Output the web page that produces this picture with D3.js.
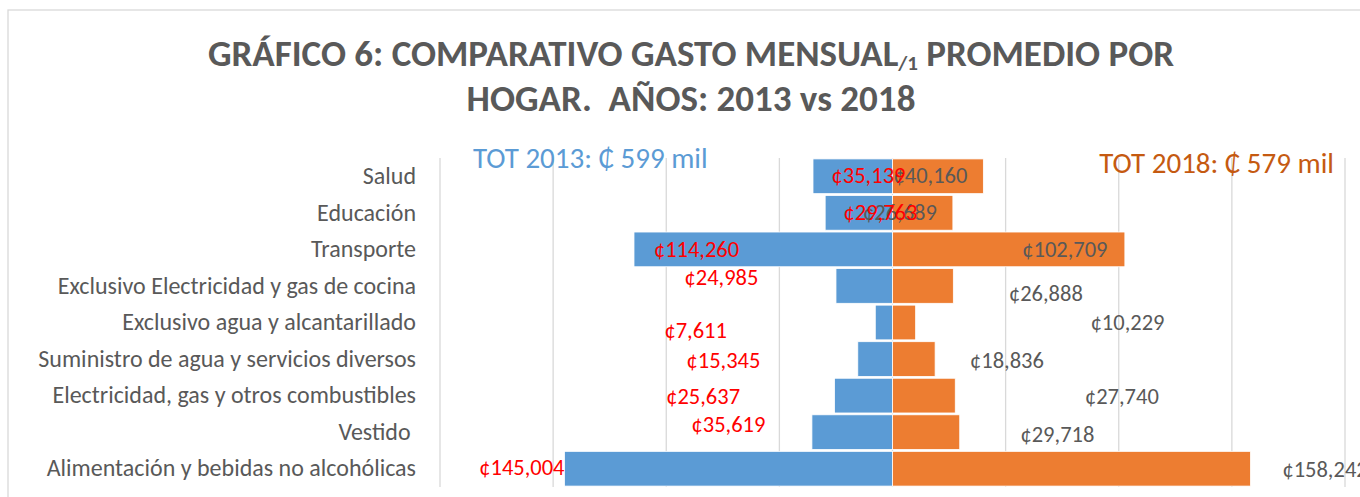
<!DOCTYPE html>
<html>
<head>
<meta charset="utf-8">
<script src="https://cdn.jsdelivr.net/npm/d3@7"></script>
<style>
  html, body { margin: 0; padding: 0; background: #fff; overflow: hidden; }
  svg { display: block; }
</style>
</head>
<body>
<svg id="chart" width="1360" height="497"></svg>
<script>
// ---------------- DATA ----------------
const categories = [
  "Salud",
  "Educación",
  "Transporte",
  "Exclusivo Electricidad y gas de cocina",
  "Exclusivo agua y alcantarillado",
  "Suministro de agua y servicios diversos",
  "Electricidad, gas y otros combustibles",
  "Vestido ",
  "Alimentación y bebidas no alcohólicas"
];
const values2013 = [35139, 29763, 114260, 24985, 7611, 15345, 25637, 35619, 145004];
const values2018 = [40160, 26689, 102709, 26888, 10229, 18836, 27740, 29718, 158242];
const xTicks = [-200000, -150000, -100000, -50000, 0, 50000, 100000, 150000, 200000];
const titleLine1 = ["GRÁFICO 6: COMPARATIVO GASTO MENSUAL", "/1", " PROMEDIO POR"];
const titleLine2 = "HOGAR.\u00A0 AÑOS: 2013 vs 2018";
const total2013 = "TOT 2013: ₵ 599 mil";
const total2018 = "TOT 2018: ₵ 579 mil";

// -------- label placement (manual, as in the source chart) --------
// centre of each data label, in value units, and a vertical nudge in px
const labelX2013 = [-10600, -5300, -86600, -75600, -87000, -74700, -83700, -72500, -163800];
const labelDy2013 = [-1, -1, 0, -9, 7.5, 1, 1, -8, -2];
const labelX2018 = [16800, 3300, 76200, 67800, 103900, 50600, 101400, 72900, 191200];
const labelDy2018 = [-1, -1, 0, 7, 0, 1, 1, 2, 0];

// ---------------- LAYOUT ----------------
const FONT = "Carlito, Calibri, Lato, 'Open Sans', sans-serif";
const svg = d3.select("#chart");
const plot = { left: 440, right: 1345, top: 158, bottom: 487 };

const x = d3.scaleLinear().domain([-200000, 200000]).range([plot.left, plot.right]);
const y = d3.scaleBand().domain(categories).range([plot.top, plot.bottom])
  .paddingInner(0.05).paddingOuter(0.025);

// chart border (partly cropped in the reference)
svg.append("rect")
  .attr("x", 8).attr("y", 10).attr("width", 1500).attr("height", 600)
  .attr("fill", "none").attr("stroke", "#D9D9D9").attr("stroke-width", 1.3);

// gridlines
svg.append("g").selectAll("line").data(xTicks).join("line")
  .attr("x1", d => x(d)).attr("x2", d => x(d))
  .attr("y1", plot.top).attr("y2", plot.bottom)
  .attr("stroke", "#D9D9D9").attr("stroke-width", 1.3);

// bars
svg.append("g").selectAll("rect").data(categories).join("rect")
  .attr("x", (d, i) => x(-values2013[i]))
  .attr("width", (d, i) => x(0) - x(-values2013[i]))
  .attr("y", d => y(d)).attr("height", y.bandwidth())
  .attr("fill", "#5B9BD5").attr("stroke", "#fff").attr("stroke-width", 0.8);

svg.append("g").selectAll("rect").data(categories).join("rect")
  .attr("x", x(0))
  .attr("width", (d, i) => x(values2018[i]) - x(0))
  .attr("y", d => y(d)).attr("height", y.bandwidth())
  .attr("fill", "#ED7D31").attr("stroke", "#fff").attr("stroke-width", 0.8);

// category axis
const yAxis = d3.axisLeft(y).tickSize(0).tickPadding(24);
const ya = svg.append("g").attr("transform", `translate(${plot.left},0)`).call(yAxis);
ya.select(".domain").remove();
ya.selectAll("text")
  .style("white-space", "pre")
  .attr("font-family", FONT).attr("font-size", 24).attr("fill", "#595959");

const fmt = v => "¢" + d3.format(",")(v);

// data labels 2018 (gray) first, 2013 (red) on top
svg.append("g").selectAll("text").data(categories).join("text")
  .attr("x", (d, i) => x(labelX2018[i]))
  .attr("y", (d, i) => y(d) + y.bandwidth() / 2 + labelDy2018[i])
  .attr("dy", "0.35em").attr("text-anchor", "middle")
  .attr("font-family", FONT).attr("font-size", 22.5).attr("fill", "#595959")
  .text((d, i) => fmt(values2018[i]));

svg.append("g").selectAll("text").data(categories).join("text")
  .attr("x", (d, i) => x(labelX2013[i]))
  .attr("y", (d, i) => y(d) + y.bandwidth() / 2 + labelDy2013[i])
  .attr("dy", "0.35em").attr("text-anchor", "middle")
  .attr("font-family", FONT).attr("font-size", 22.5).attr("fill", "#FF0000")
  .text((d, i) => fmt(values2013[i]));

// totals
svg.append("text").attr("x", 473).attr("y", 168)
  .attr("font-family", FONT).attr("font-size", 29).attr("fill", "#5B9BD5")
  .text(total2013);
svg.append("text").attr("x", 1334).attr("y", 173).attr("text-anchor", "end")
  .attr("font-family", FONT).attr("font-size", 29).attr("fill", "#C55A11")
  .text(total2018);

// title
const t1 = svg.append("text").attr("x", 691).attr("y", 66).attr("text-anchor", "middle")
  .attr("font-family", FONT).attr("font-weight", "bold").attr("font-size", 37).attr("fill", "#595959");
t1.append("tspan").text(titleLine1[0]);
t1.append("tspan").attr("font-size", 21).attr("dy", 4).text(titleLine1[1]);
t1.append("tspan").attr("dy", -4).text(titleLine1[2]);
svg.append("text").attr("x", 691).attr("y", 111).attr("text-anchor", "middle")
  .attr("font-family", FONT).attr("font-weight", "bold").attr("font-size", 37).attr("fill", "#595959")
  .text(titleLine2);
</script>
</body>
</html>
